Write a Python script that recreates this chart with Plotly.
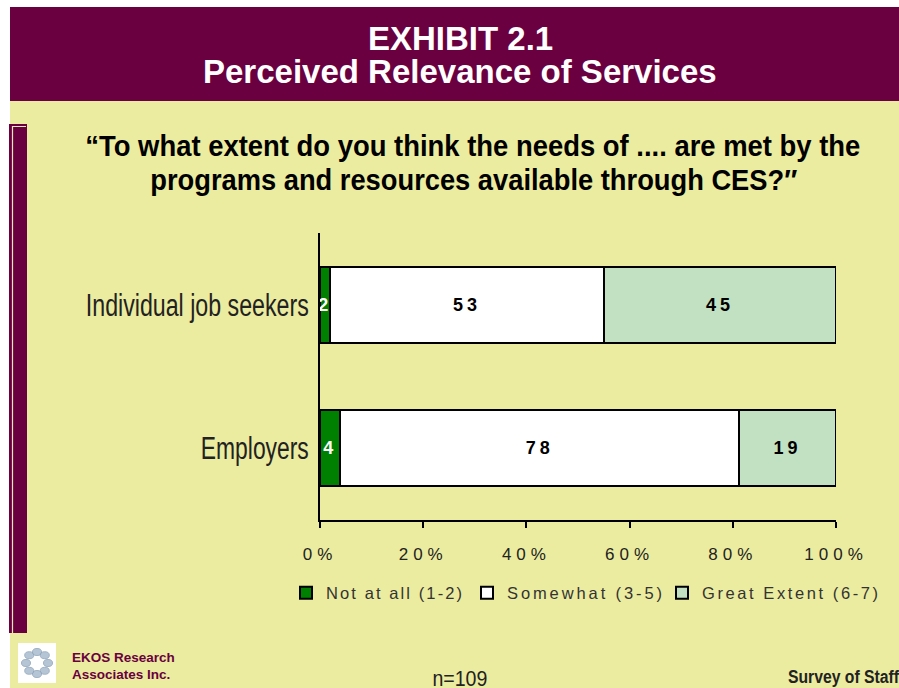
import math
import plotly.graph_objects as go

# ---- data ----
categories = ["Employers", "Individual job seekers"]
series_names = ["Not at all (1-2)", "Somewhat (3-5)", "Great Extent (6-7)"]
not_at_all = [4, 2]
somewhat = [78, 53]
great_extent = [19, 45]
tick_values = [0, 20, 40, 60, 80, 100]
tick_labels = ["0%", "20%", "40%", "60%", "80%", "100%"]

# ---- styling ----
MAROON = "#6A0040"
YELLOW = "#EBEC9F"
FILL_COLORS = ["#008000", "#FFFFFF", "#C2E0C2"]
TEXT_COLORS = ["#FFFFFF", "#000000", "#000000"]
SANS = "Liberation Sans, Arial, sans-serif"
LEGEND_X = [286, 467, 662]   # left edge of each legend entry, px

W, H = 899, 688
PL, PR, PT, PB = 320, 836, 233, 520  # plot area in pixels


def px(x):
    return (x - PL) / (PR - PL)


def py(y):
    return (PB - y) / (PB - PT)


fig = go.Figure()
legend_ids = ["legend", "legend2", "legend3"]
for name, vals, fill, tcol, lg in zip(series_names, [not_at_all, somewhat, great_extent],
                                      FILL_COLORS, TEXT_COLORS, legend_ids):
    fig.add_trace(go.Bar(
        name=name,
        y=categories,
        x=vals,
        orientation="h",
        width=0.53,
        legend=lg,
        marker=dict(color=fill, line=dict(color="#000000", width=2)),
        text=[str(v) for v in vals],
        textposition="inside",
        insidetextanchor="middle",
        constraintext="none",
        textangle=0,
        textfont=dict(family=SANS, size=18, color=tcol, weight="bold"),
        hoverinfo="skip",
    ))

shapes = [
    # page background
    dict(type="rect", xref="paper", yref="paper", x0=px(10), x1=px(W), y0=py(H), y1=py(101),
         fillcolor=YELLOW, line=dict(width=0), layer="below"),
    # header band
    dict(type="rect", xref="paper", yref="paper", x0=px(10), x1=px(W), y0=py(101), y1=py(7),
         fillcolor=MAROON, line=dict(width=0), layer="below"),
    # left side bar
    dict(type="rect", xref="paper", yref="paper", x0=px(9), x1=px(27), y0=py(633), y1=py(124),
         fillcolor=MAROON, line=dict(width=0), layer="below"),
    dict(type="path", xref="paper", yref="paper",
         path=f"M{px(12.5)},{py(633)} L{px(12.5)},{py(126.5)} L{px(26)},{py(126.5)}",
         line=dict(color="#F0E8B8", width=1.2), layer="below"),
    # logo backdrop
    dict(type="rect", xref="paper", yref="paper", x0=px(18), x1=px(56), y0=py(683), y1=py(643),
         fillcolor="#FFFFFF", line=dict(width=0), layer="below"),
]

# swirl logo: small blades arranged round a centre
cx, cy = 37, 663
for k in range(8):
    a = 2 * math.pi * k / 8
    bx, by = cx + 11 * math.cos(a), cy + 11 * math.sin(a)
    shapes.append(dict(type="circle", xref="paper", yref="paper",
                       x0=px(bx - 4.5), x1=px(bx + 4.5), y0=py(by + 3.5), y1=py(by - 3.5),
                       fillcolor="#A9BCCE", line=dict(color="#8EA4BA", width=1),
                       opacity=0.85, layer="below"))

BOLD_WHITE = dict(family=SANS, size=33, color="#FFFFFF", weight="bold")
annotations = [
    dict(text="EXHIBIT 2.1", x=px(460), y=py(38), font=BOLD_WHITE),
    dict(text="Perceived Relevance of Services", x=px(460), y=py(71), font=BOLD_WHITE),
    dict(text="\u201cTo what extent do you think the needs of .... are met by the",
         x=px(472.5), y=py(146), font=dict(family=SANS, size=29, color="#000000", weight="bold")),
    dict(text="programs and resources available through CES?\u2033",
         x=px(473.5), y=py(180), font=dict(family=SANS, size=29, color="#000000", weight="bold")),
    dict(text="EKOS Research", x=px(70), y=py(657), xanchor="left",
         font=dict(family=SANS, size=13.5, color=MAROON, weight="bold")),
    dict(text="Associates Inc.", x=px(70), y=py(674), xanchor="left",
         font=dict(family=SANS, size=13.5, color=MAROON, weight="bold")),
    dict(text="n=109", x=px(459.5), y=py(678), font=dict(family=SANS, size=22, color="#222222")),
    dict(text="Survey of Staff", x=px(843.5), y=py(677),
         font=dict(family=SANS, size=18, color="#222222", weight="bold")),
]
for a in annotations:
    a.update(xref="paper", yref="paper", showarrow=False)
    a.setdefault("xanchor", "center")
    a.setdefault("yanchor", "middle")

legend_common = dict(
    orientation="h", y=py(593), xanchor="left", yanchor="middle",
    font=dict(family=SANS, size=16.5, color="#333333"),
    bgcolor="rgba(0,0,0,0)", entrywidth=178, entrywidthmode="pixels", itemclick=False,
)

fig.update_layout(
    width=W, height=H,
    margin=dict(l=PL, r=W - PR, t=PT, b=H - PB, pad=0, autoexpand=False),
    paper_bgcolor="#FFFFFF",
    plot_bgcolor="rgba(0,0,0,0)",
    barmode="stack",
    barnorm="percent",
    showlegend=True,
    legend=dict(x=px(LEGEND_X[0]), **legend_common),
    legend2=dict(x=px(LEGEND_X[1]), **legend_common),
    legend3=dict(x=px(LEGEND_X[2]), **legend_common),
    shapes=shapes,
    annotations=annotations,
    xaxis=dict(
        range=[0, 100], tickvals=tick_values, ticktext=tick_labels,
        showgrid=False, zeroline=False, showline=True, linecolor="#000000", linewidth=2,
        ticks="outside", ticklen=6, tickwidth=2, tickcolor="#000000",
        ticklabelstandoff=12,
        tickfont=dict(family=SANS, size=17, color="#222222"),
        fixedrange=True,
    ),
    yaxis=dict(
        categoryorder="array", categoryarray=categories, range=[-0.5, 1.5],
        showgrid=False, zeroline=False, showline=True, linecolor="#000000", linewidth=2,
        ticks="", ticklabelstandoff=3,
        tickfont=dict(family=SANS, size=31, color="#222222"),
        fixedrange=True,
    ),
)

# typographic finishing: letter spacing on tick/bar labels, tracked legend
# labels and condensed set widths for the narrow-face texts.  Applied on every
# change of the plot's DOM so later-drawn pieces (extra legends) get it too.
finish_js = """
var gd = document.getElementById('{plot_id}');
var condensed = {
  'Individual job seekers': 223, 'Employers': 108,
  '\\u201cTo what extent do you think the needs of .... are met by the': 775,
  'programs and resources available through CES?\\u2033': 647,
  'n=109': 55, 'Survey of Staff': 111
};
var tracked = {'Not at all (1-2)': 136, 'Somewhat (3-5)': 155, 'Great Extent (6-7)': 176};
function setLen(t, w, mode) {
  if (t.getAttribute('textLength') !== String(w)) {
    t.setAttribute('textLength', w);
    t.setAttribute('lengthAdjust', mode);
  }
}
function finish() {
  gd.querySelectorAll('.xtick text').forEach(function(t){ t.style.letterSpacing = '5px'; });
  gd.querySelectorAll('.bartext').forEach(function(t){ t.style.letterSpacing = '4px'; });
  gd.querySelectorAll('text').forEach(function(t){
    var key = t.textContent;
    if (tracked[key]) { setLen(t, tracked[key], 'spacing'); }
    else if (condensed[key]) { setLen(t, condensed[key], 'spacingAndGlyphs'); }
  });
}
finish();
gd.on('plotly_afterplot', finish);
new MutationObserver(finish).observe(gd, {childList: true, subtree: true, characterData: true});
[0, 100, 400, 1000].forEach(function(ms){ setTimeout(finish, ms); });
"""

fig.write_html("out.html", config={"displayModeBar": False}, post_script=finish_js)
